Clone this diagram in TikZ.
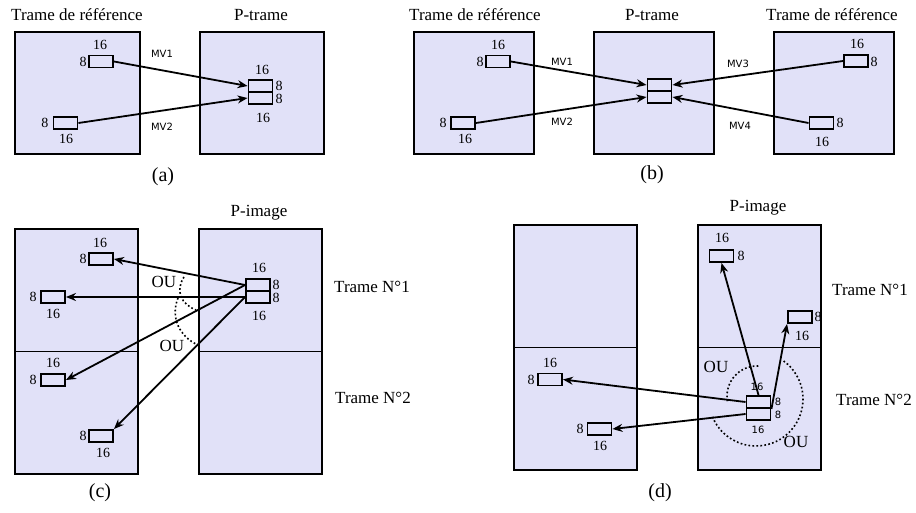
\documentclass[tikz,border=0pt]{standalone}
\usepackage{fontspec}
\setmainfont{Liberation Serif}
\newfontfamily\sansf{DejaVu Sans}
\usetikzlibrary{arrows.meta}
\definecolor{lav}{RGB}{225,225,248}
\begin{document}
\begin{tikzpicture}[x=1pt,y=-1pt,
  panel/.style={draw, line width=1.9pt, fill=lav, inner sep=0pt, anchor=north west},
  blk/.style={draw, line width=1.9pt, fill=lav, minimum width=24pt, minimum height=12pt, inner sep=0pt},
  ttl/.style={font=\fontsize{17}{20}\selectfont, inner sep=0pt},
  num/.style={font=\fontsize{14}{16}\selectfont, inner sep=0pt},
  snum/.style={font=\sansf\fontsize{10}{12}\selectfont, inner sep=0pt},
  mv/.style={font=\sansf\fontsize{10}{12}\selectfont, inner sep=0pt},
  capt/.style={font=\fontsize{20}{24}\selectfont, inner sep=0pt},
  arr/.style={-{Stealth[length=10pt,width=8pt]}, line width=1.8pt},
  divl/.style={line width=1.6pt},
  ou/.style={line width=1.6pt, dash pattern=on 1.7pt off 2.3pt}]
\useasboundingbox (0,0) rectangle (916,513);

% ---------------- (a) ----------------
\node[panel, minimum width=125pt, minimum height=122pt] (A1) at (14,31) {};
\node[panel, minimum width=124pt, minimum height=122pt] (A2) at (199,31) {};
\node[ttl] (ta1) at (77,15) {Trame de référence};
\node[ttl] (ta2) at (261,15) {P-trame};
\node[blk] (aT) at (101,61.5) {};
\node[blk] (aB) at (65.5,123) {};
\node[blk] (aPt) at (260.5,86) {};
\node[blk] (aPb) at (260.5,98) {};
\draw[arr] (aT.east) -- (aPt.west);
\draw[arr] (aB.east) -- (aPb.west);
\node[num] (na1) at (100,45) {16};
\node[num] (na2) at (83,62) {8};
\node[num] (na3) at (45,123) {8};
\node[num] (na4) at (66,139) {16};
\node[num] (na5) at (262,70) {16};
\node[num] (na6) at (279,86) {8};
\node[num] (na7) at (279,99) {8};
\node[num] (na8) at (263,118) {16};
\node[mv] (mva1) at (162,54) {MV1};
\node[mv] (mva2) at (162,127) {MV2};
\node[capt] (ca) at (163,177) {(a)};

% ---------------- (b) ----------------
\node[panel, minimum width=120pt, minimum height=122pt] (B1) at (413,31) {};
\node[panel, minimum width=120pt, minimum height=122pt] (B2) at (593,31) {};
\node[panel, minimum width=120pt, minimum height=122pt] (B3) at (773,31) {};
\node[ttl] (tb1) at (475,15) {Trame de référence};
\node[ttl] (tb2) at (652,15) {P-trame};
\node[ttl] (tb3) at (832,15) {Trame de référence};
\node[blk] (bT) at (498,61.5) {};
\node[blk] (bB) at (463,123) {};
\node[blk] (bPt) at (659.5,85) {};
\node[blk] (bPb) at (659.5,97) {};
\node[blk] (bR1) at (856,61) {};
\node[blk] (bR2) at (821.5,123) {};
\draw[arr] (bT.east) -- (bPt.west);
\draw[arr] (bB.east) -- (bPb.west);
\draw[arr] (bR1.west) -- (bPt.east);
\draw[arr] (bR2.west) -- (bPb.east);
\node[num] (nb1) at (498,45) {16};
\node[num] (nb2) at (480,62) {8};
\node[num] (nb3) at (443,123) {8};
\node[num] (nb4) at (465,139) {16};
\node[num] (nb5) at (857,44) {16};
\node[num] (nb6) at (874,62) {8};
\node[num] (nb7) at (840,123) {8};
\node[num] (nb8) at (822,142) {16};
\node[mv] (mvb1) at (562,62) {MV1};
\node[mv] (mvb2) at (562,122) {MV2};
\node[mv] (mvb3) at (738,64) {MV3};
\node[mv] (mvb4) at (740,126) {MV4};
\node[capt] (cb) at (652,175) {(b)};

% ---------------- (c) ----------------
\node[panel, minimum width=123pt, minimum height=245pt] (C1) at (14,228) {};
\node[panel, minimum width=123pt, minimum height=245pt] (C2) at (198,228) {};
\draw[divl] (C1.west) -- (C1.east);
\draw[divl] (C2.west) -- (C2.east);
\node[ttl] (tc) at (259,213) {P-image};
\draw[ou] (184,277) .. controls (175,291) and (181,304) .. (196,310);
\draw[ou] (178,298) .. controls (170,318) and (180,337) .. (198,345);
\node[blk] (cPt) at (258,285) {};
\node[blk] (cPb) at (258,297) {};
\node[blk] (c1) at (101,259) {};
\node[blk] (c2) at (53,297) {};
\node[blk] (c3) at (53,380) {};
\node[blk] (c4) at (101,436) {};
\draw[arr] (cPt.west) -- (c1.east);
\draw[arr] (cPb.west) -- (c2.east);
\draw[arr] (cPt.west) -- (c3.east);
\draw[arr] (cPb.west) -- (c4.north east);
\node[num] (nc1) at (259,268) {16};
\node[num] (nc2) at (276,285) {8};
\node[num] (nc3) at (276,298) {8};
\node[num] (nc4) at (259,316) {16};
\node[num] (nc5) at (100,243) {16};
\node[num] (nc6) at (83,259) {8};
\node[num] (nc7) at (33,297) {8};
\node[num] (nc8) at (53,314) {16};
\node[num] (nc9) at (53,363) {16};
\node[num] (nc10) at (33,380) {8};
\node[num] (nc11) at (83,436) {8};
\node[num] (nc12) at (103,453) {16};
\node[ttl] (ouc1) at (164,282) {OU};
\node[ttl] (ouc2) at (172,346) {OU};
\node[ttl] (trc1) at (372,287) {Trame N°1};
\node[ttl] (trc2) at (373,398) {Trame N°2};
\node[capt] (cc) at (100,493) {(c)};

% ---------------- (d) ----------------
\node[panel, minimum width=123pt, minimum height=245pt] (D1) at (513,224) {};
\node[panel, minimum width=123pt, minimum height=245pt] (D2) at (697,224) {};
\draw[divl] (D1.west) -- (D1.east);
\draw[divl] (D2.west) -- (D2.east);
\node[ttl] (td) at (758,208) {P-image};
\coordinate (dc1) at (757,396);
\coordinate (dc2) at (756,399);
\draw[ou] (dc1) ++(190:30pt) arc[start angle=190, end angle=85, radius=30pt];
\draw[ou] (dc2) ++(54:47pt) arc[start angle=54, end angle=-158, radius=47pt];
\node[blk] (dPt) at (758.5,402) {};
\node[blk] (dPb) at (758.5,414) {};
\node[blk] (d1) at (721.5,256) {};
\node[blk] (d2) at (800,317) {};
\node[blk] (d3) at (550,379.5) {};
\node[blk] (d4) at (599.5,429) {};
\draw[arr] (dPt.north) -- (d1.south);
\draw[arr] (dPt.south east) -- (d2.south west);
\draw[arr] (dPt.west) -- (d3.east);
\draw[arr] (dPb.west) -- (d4.east);
\node[snum] (nd1) at (757,387) {16};
\node[snum] (nd2) at (778,402) {8};
\node[snum] (nd3) at (778,415) {8};
\node[snum] (nd4) at (758,430) {16};
\node[num] (nd5) at (722,238) {16};
\node[num] (nd6) at (741,256) {8};
\node[num] (nd7) at (818,317) {8};
\node[num] (nd8) at (802,336) {16};
\node[num] (nd9) at (550,363) {16};
\node[num] (nd10) at (531,380) {8};
\node[num] (nd11) at (580,429) {8};
\node[num] (nd12) at (600,446) {16};
\node[ttl] (oud1) at (716,367) {OU};
\node[ttl] (oud2) at (796,442) {OU};
\node[ttl] (trd1) at (870,290) {Trame N°1};
\node[ttl] (trd2) at (874,400) {Trame N°2};
\node[capt] (cd) at (660,493) {(d)};
\end{tikzpicture}
\end{document}
